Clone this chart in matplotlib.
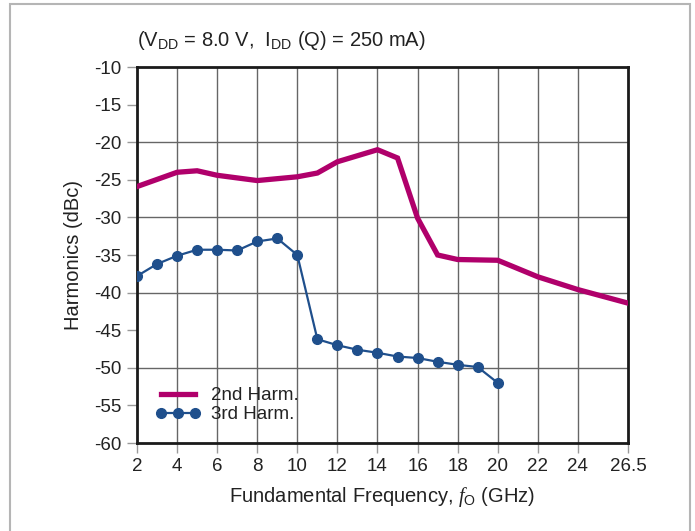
import matplotlib
matplotlib.use("Agg")
import matplotlib.pyplot as plt
from matplotlib.patches import Rectangle

plt.rcParams['font.family'] = ['Liberation Sans', 'DejaVu Sans']
plt.rcParams['mathtext.fontset'] = 'custom'
plt.rcParams['mathtext.rm'] = 'Liberation Sans'
plt.rcParams['mathtext.it'] = 'Liberation Serif:italic'
plt.rcParams['axes.unicode_minus'] = False

# Data
freq2 = [2, 4, 5, 6, 8, 10, 11, 12, 14, 15, 16, 17, 18, 20, 22, 24, 26.5]
harm2 = [-25.9, -24.0, -23.8, -24.4, -25.1, -24.6, -24.1, -22.6, -21.0, -22.1,
         -30.1, -35.0, -35.6, -35.7, -37.9, -39.6, -41.4]
freq3 = [2, 3, 4, 5, 6, 7, 8, 9, 10, 11, 12, 13, 14, 15, 16, 17, 18, 19, 20]
harm3 = [-37.8, -36.2, -35.1, -34.3, -34.3, -34.4, -33.2, -32.8, -35.0, -46.2,
         -47.0, -47.6, -48.0, -48.5, -48.7, -49.2, -49.6, -49.9, -52.0]
xticks = [2, 4, 6, 8, 10, 12, 14, 16, 18, 20, 22, 24, 26.5]
xticklabels = ['2', '4', '6', '8', '10', '12', '14', '16', '18', '20', '22', '24', '26.5']
yticks = [-10, -15, -20, -25, -30, -35, -40, -45, -50, -55, -60]

W, H = 695, 531
fig = plt.figure(figsize=(W / 100, H / 100), dpi=100)
ax = fig.add_axes([137 / W, 1 - 443 / H, (628 - 137) / W, (443 - 67) / H])

# outer gray frame
fig.patches.append(Rectangle((10 / W, -0.05), (690 - 10) / W, 1.05 - 4 / H,
                             transform=fig.transFigure, fill=False,
                             edgecolor='#b5b5b5', lw=1.5))

magenta = '#b0006b'
blue = '#1f4f8c'

for x in range(4, 25, 2):
    ax.axvline(x, color='#666666', lw=1.0, zorder=1)
for y in [-20, -30, -40, -50]:
    ax.axhline(y, color='#666666', lw=1.0, zorder=1)

ax.plot(freq2, harm2, color=magenta, lw=3.8, solid_joinstyle='miter', zorder=3,
        label='2nd Harm.')
ax.plot(freq3, harm3, color=blue, lw=1.6, marker='o', markersize=7, zorder=4,
        label='3rd Harm.')

ax.set_xlim(2, 26.5)
ax.set_ylim(-60, -10)
ax.set_xticks(xticks)
ax.set_xticklabels(xticklabels)
ax.set_yticks(yticks)
ax.tick_params(direction='out', length=7, width=1, color='#999999',
               labelsize=13.5, labelcolor='#222222', pad=4)
for s in ax.spines.values():
    s.set_linewidth(2.0)
    s.set_color('#1a1a1a')

ax.set_xlabel(r'Fundamental Frequency, $\mathit{f}_{\mathregular{O}}$ (GHz)',
              fontsize=14.5, color='#222222', labelpad=7)
ax.set_ylabel('Harmonics (dBc)', fontsize=14.5, color='#222222', labelpad=8)

fig.text(137 / W, 1 - 40 / H,
         r'(V$_{\mathregular{DD}}$ = 8.0 V,  I$_{\mathregular{DD}}$ (Q) = 250 mA)',
         fontsize=14.5, color='#222222', ha='left', va='center')

leg = ax.legend(loc='lower left', bbox_to_anchor=(0.003, 0.007), frameon=False,
                fontsize=13.5, handlelength=2.4, handletextpad=0.55,
                labelspacing=0.1, numpoints=3)
for t in leg.get_texts():
    t.set_color('#222222')

fig.savefig('out.png', dpi=100)
